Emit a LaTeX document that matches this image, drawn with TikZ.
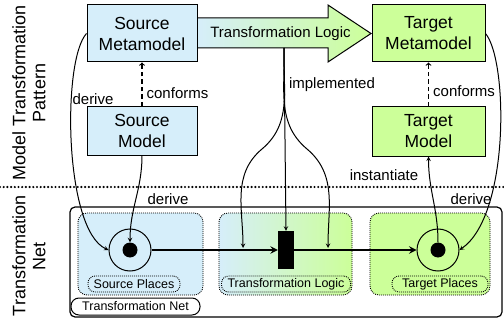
\documentclass[tikz,border=0pt]{standalone}
\usepackage{fontspec}
\setmainfont{Liberation Sans}
\usepackage{tikz}
\usetikzlibrary{
    calc,
    positioning,
    arrows,
    shapes
}
\definecolor{srcblue}{RGB}{214,238,250}
\definecolor{tgtgreen}{RGB}{204,255,153}
\tikzset{
    model/.style = {
        draw,
        line width=1pt,
        align=center,
        inner sep=0pt,
        font=\fontsize{17.5}{21}\selectfont
    },
    srcbox/.style = {model, fill=srcblue},
    tgtbox/.style = {model, fill=tgtgreen},
    region/.style = {
        draw,
        line width=0.9pt,
        dash pattern=on 0.9pt off 1.1pt,
        rounded corners=9pt,
        minimum height=82pt
    },
    regionlabel/.style = {
        draw,
        line width=0.9pt,
        dash pattern=on 0.9pt off 1.1pt,
        rounded corners=7pt,
        inner sep=0pt,
        minimum height=16pt,
        font=\fontsize{12.5}{15}\selectfont
    },
    lbl/.style = {inner sep=0pt, font=\fontsize{15}{18}\selectfont},
    sidelabel/.style = {rotate=90, align=center, inner sep=0pt, font=\fontsize{18}{20}\selectfont},
    link/.style = {->, >=stealth, line width=1pt},
    flow/.style = {-stealth, line width=2.2pt},
    conform/.style = {-to, line width=1.1pt, dash pattern=on 4.5pt off 3pt},
    placenode/.style = {circle, draw, line width=1pt, minimum size=42pt, inner sep=0pt},
    tokennode/.style = {circle, fill=black, minimum size=15pt, inner sep=0pt},
    transnode/.style = {fill=black, minimum width=16pt, minimum height=38pt, inner sep=0pt}
}
\begin{document}
\begin{tikzpicture}[x=1pt, y=1pt]
    \useasboundingbox (0,0) rectangle (504,-321);

    % side labels and separator
    \node[sidelabel] (patternlabel) at (29,-93) {Model Transformation\\Pattern};
    \node[sidelabel] (netlabel) at (29,-256) {Transformation\\Net};
    \draw[line width=2.4pt, line cap=round, dash pattern=on 0pt off 3.7pt] (0,-187) -- (504,-187);

    % transformation net
    \node[draw, line width=1.2pt, rounded corners=5pt, minimum width=432pt, minimum height=110pt] (tnet) at (286,-262) {};
    \node[region, fill=srcblue, minimum width=125pt] (srcregion) at (140.5,-254) {};
    \node[region, left color=srcblue, right color=tgtgreen, minimum width=133pt] (logicregion) at (285.5,-254) {};
    \node[region, fill=tgtgreen, minimum width=120pt] (tgtregion) at (430,-254) {};
    \node[regionlabel, minimum width=92pt] (srclabel) at (134,-284) {Source Places};
    \node[regionlabel, minimum width=129pt] (logiclabel) at (286,-284) {Transformation Logic};
    \node[regionlabel, minimum width=96pt] (tgtlabel) at (440,-284) {Target Places};
    \node[draw, line width=1pt, rounded corners=8pt, inner sep=0pt, minimum width=129pt, minimum height=17pt,
        font=\fontsize{12.5}{15}\selectfont] (tnetlabel) at (135.5,-306.5) {Transformation Net};

    \node[placenode] (srcplace) at (130,-250) {};
    \node[tokennode] (srctoken) at (130,-250) {};
    \node[transnode] (trans) at (286,-250) {};
    \node[placenode] (tgtplace) at (438,-250) {};
    \node[tokennode] (tgttoken) at (438,-250) {};
    \draw[flow] (srcplace) -- (trans);
    \draw[flow] (trans) -- (tgtplace);

    % transformation pattern
    \shade[left color=srcblue, right color=tgtgreen, draw, line width=1pt]
        (197,-18) -- (328,-18) -- (328,-5) -- (371,-33.5) -- (328,-62) -- (328,-48) -- (197,-48) -- cycle;
    \node[lbl] (logic) at (280.5,-33.5) {Transformation Logic};
    \coordinate (logicfoot) at (284,-48);

    \node[srcbox, minimum width=110pt, minimum height=57pt] (srcmeta) at (142,-33.5) {Source\\Metamodel};
    \node[srcbox, minimum width=110pt, minimum height=48pt] (srcmodel) at (142,-131) {Source\\Model};
    \node[tgtbox, minimum width=113pt, minimum height=57pt] (tgtmeta) at (428.5,-33.5) {Target\\Metamodel};
    \node[tgtbox, minimum width=113pt, minimum height=49pt] (tgtmodel) at (428.5,-131.5) {Target\\Model};

    \draw[conform] (srcmodel) -- (srcmeta);
    \draw[conform] (tgtmodel) -- (tgtmeta);
    \node[lbl] (conforms1) at (177.5,-93) {conforms};
    \node[lbl] (conforms2) at (464,-91) {conforms};

    % derive / implement / instantiate
    \draw[link] (srcmeta.west) .. controls (62,-60) and (64,-230) .. (srcplace.west);
    \node[lbl] (derive1) at (93,-99) {derive};
    \draw[link] (srcmodel.south) to[out=-90, in=90] (srctoken.north);
    \node[lbl] (derive2) at (168,-199) {derive};
    \draw[link] (tgtmeta.east) .. controls (508,-60) and (510,-215) .. (tgtplace.east);
    \node[lbl] (derive3) at (471,-199) {derive};

    \coordinate (implL) at (243,-248);
    \coordinate (implR) at (328,-248);
    \draw[link] (logicfoot) -- (trans.north);
    \draw[link] (logicfoot) to[out=-92, in=40] (262,-149) to[out=-140, in=90] (implL);
    \draw[link] (logicfoot) to[out=-88, in=140] (307,-149) to[out=-40, in=90] (implR);
    \node[lbl] (implemented) at (332,-85) {implemented};

    \draw[link] (tgttoken.north) to[out=90, in=-90] (tgtmodel.south);
    \node[lbl] (instantiate) at (384,-175) {instantiate};
\end{tikzpicture}
\end{document}
